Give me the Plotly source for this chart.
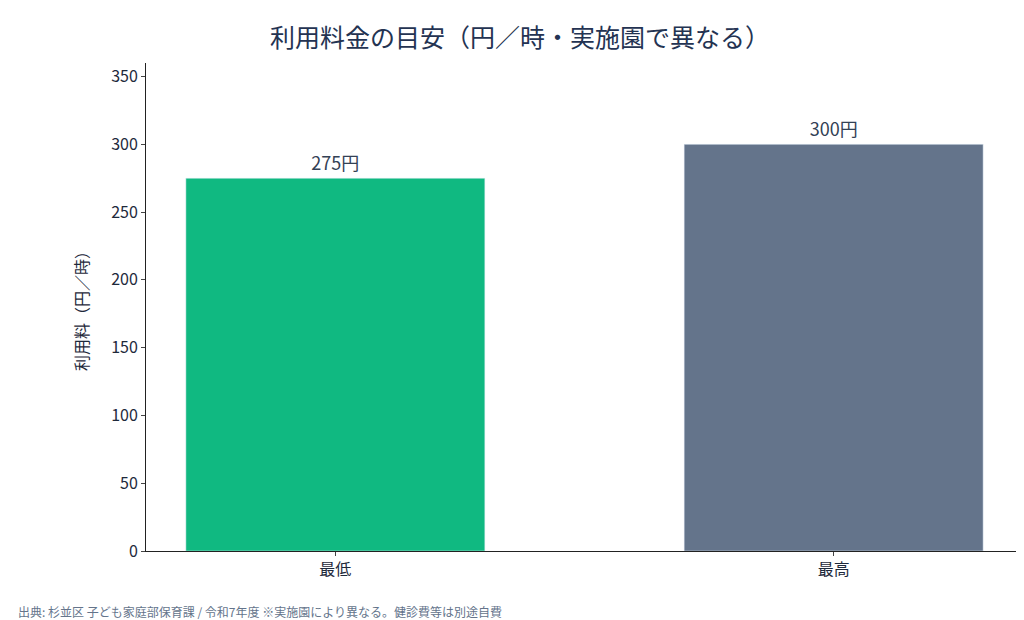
import plotly.graph_objects as go

categories = ["最低", "最高"]
values = [275, 300]
labels = ["275円", "300円"]
colors = ["#10b981", "#64748b"]

font = "Noto Sans CJK JP"

fig = go.Figure(go.Bar(
    x=categories, y=values, text=labels, textposition="outside",
    marker_color=colors, width=0.6, cliponaxis=False,
    textfont=dict(size=18, color="#334155", family=font),
))

fig.update_layout(
    width=1024, height=620,
    paper_bgcolor="white", plot_bgcolor="white",
    font=dict(family=font, color="#1e293b"),
    title=dict(text="利用料金の目安（円／時・実施園で異なる）", x=0.5, xanchor="center",
               y=0.965, font=dict(size=25, color="#243352", family=font)),
    margin=dict(l=138, r=9, t=55, b=77, autoexpand=False),
    showlegend=False,
)
fig.update_yaxes(range=[0, 360], tickvals=[0, 50, 100, 150, 200, 250, 300, 350],
                 showgrid=False, showline=True, linecolor="#222", ticks="outside",
                 ticklen=4, tickfont=dict(size=16), zeroline=False, automargin=False,
                 title=dict(text="利用料（円／時）", font=dict(size=16), standoff=18))
fig.update_xaxes(range=[-0.38, 1.38], showline=True, linecolor="#222", ticks="outside",
                 ticklen=4, tickfont=dict(size=16), automargin=False)
fig.add_annotation(text="出典: 杉並区 子ども家庭部保育課 / 令和7年度 ※実施園により異なる。健診費等は別途自費",
                   xref="paper", yref="paper", x=-0.148, y=-0.123, xanchor="left",
                   yanchor="middle", showarrow=False, font=dict(size=12, color="#64748b"))

fig.write_html("out.html")
